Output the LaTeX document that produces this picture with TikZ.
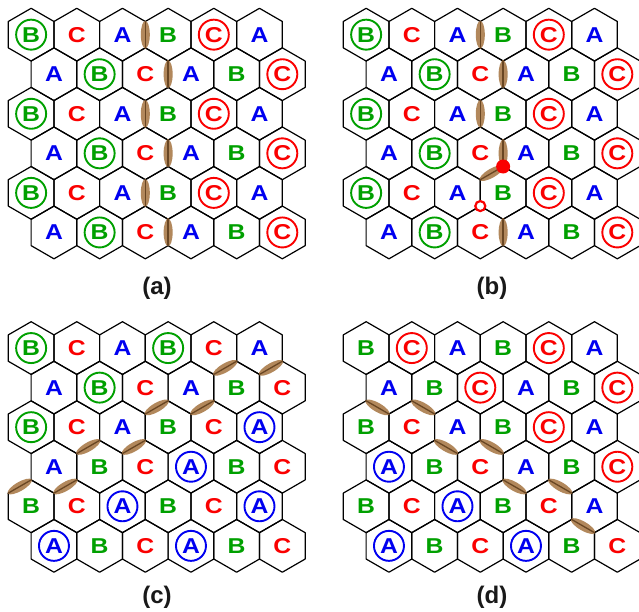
\documentclass[tikz,border=0pt]{standalone}
\usepackage{fontspec}
\usepackage{graphicx}
\setmainfont{Liberation Sans}
\usetikzlibrary{calc,shapes.geometric}
\definecolor{colA}{RGB}{0,0,240}
\definecolor{colB}{RGB}{0,160,0}
\definecolor{colC}{RGB}{250,0,0}
\definecolor{bondfill}{RGB}{178,136,92}
\definecolor{bondline}{RGB}{105,70,35}
\newcommand\hexW{45.67}
\newcommand\hexS{26.37}
\newcommand\hexR{39.555}
\newcommand\wide[1]{\scalebox{1.15}[1]{#1}}
\tikzset{
 cell/.style={circle, inner sep=0pt, minimum size=30pt, font=\bfseries\fontsize{21.5}{21.5}\selectfont},
 ring/.style={draw, line width=1.9pt},
 hexline/.style={draw=black, line width=1.2pt, line join=round},
 bond/.style={ellipse, fill=bondfill, inner sep=0pt, minimum width=9pt, minimum height=27.5pt, sloped},
 bondmid/.style={draw=bondline, line width=1.3pt},
 caption/.style={font=\bfseries\fontsize{24}{24}\selectfont, text=black!90},
 fulldot/.style={circle, fill=colC, inner sep=0pt, minimum size=14pt},
 opendot/.style={circle, draw=colC, fill=white, line width=2.2pt, inner sep=0pt, minimum size=10pt},
}
% #1 panel name, #2 x of first centre, #3 y of first centre, #4 rows
\newcommand\drawpanel[4]{%
  \foreach \rowlist [count=\rr] in {#4} {
    \foreach \Lt/\Rg [count=\kk] in \rowlist {
      \pgfmathsetmacro\xx{#2+(\kk-1)*\hexW+mod(\rr+1,2)*\hexW/2}
      \pgfmathsetmacro\yy{#3+(\rr-1)*\hexR}
      \ifnum\Rg=1
        \node[cell, color=col\Lt, ring] (#1-\rr-\kk) at (\xx,\yy) {\wide{\Lt}};
      \else
        \node[cell, color=col\Lt] (#1-\rr-\kk) at (\xx,\yy) {\wide{\Lt}};
      \fi
      \draw[hexline] (#1-\rr-\kk.center) +(90:\hexS) -- +(30:\hexS) -- +(-30:\hexS)
        -- +(-90:\hexS) -- +(-150:\hexS) -- +(150:\hexS) -- cycle;
    }
  }
}
\newcommand\bondat[3]{%
  \path (#2) -- node[bond] (#1) {} (#3);
  \draw[bondmid] (#1.north) -- (#1.south);
}
\begin{document}
\begin{tikzpicture}[x=1pt,y=-1pt]
\fill[white] (0,0) rectangle (639,612);
\useasboundingbox (0,0) rectangle (639,612);

% panel (a)
\drawpanel{a}{31.13}{34.67}{
 {B/1,C/0,A/0,B/0,C/1,A/0},{A/0,B/1,C/0,A/0,B/0,C/1},
 {B/1,C/0,A/0,B/0,C/1,A/0},{A/0,B/1,C/0,A/0,B/0,C/1},
 {B/1,C/0,A/0,B/0,C/1,A/0},{A/0,B/1,C/0,A/0,B/0,C/1}}
% panel (b)
\drawpanel{b}{366.13}{34.67}{
 {B/1,C/0,A/0,B/0,C/1,A/0},{A/0,B/1,C/0,A/0,B/0,C/1},
 {B/1,C/0,A/0,B/0,C/1,A/0},{A/0,B/1,C/0,A/0,B/0,C/1},
 {B/1,C/0,A/0,B/0,C/1,A/0},{A/0,B/1,C/0,A/0,B/0,C/1}}
% panel (c)
\drawpanel{c}{31.13}{348.07}{
 {B/1,C/0,A/0,B/1,C/0,A/0},{A/0,B/1,C/0,A/0,B/0,C/0},
 {B/1,C/0,A/0,B/0,C/0,A/1},{A/0,B/0,C/0,A/1,B/0,C/0},
 {B/0,C/0,A/1,B/0,C/0,A/1},{A/1,B/0,C/0,A/1,B/0,C/0}}
% panel (d)
\drawpanel{d}{366.13}{348.07}{
 {B/0,C/1,A/0,B/0,C/1,A/0},{A/0,B/0,C/1,A/0,B/0,C/1},
 {B/0,C/0,A/0,B/0,C/1,A/0},{A/1,B/0,C/0,A/0,B/0,C/1},
 {B/0,C/0,A/1,B/0,C/0,A/0},{A/1,B/0,C/0,A/1,B/0,C/0}}

% bonds (a)
\foreach \rr in {1,...,6} { \bondat{ab\rr}{a-\rr-3.center}{a-\rr-4.center} }
% bonds (b)
\foreach \rr in {1,2,3,4,6} { \bondat{bb\rr}{b-\rr-3.center}{b-\rr-4.center} }
\bondat{bb45}{b-4-3.center}{b-5-4.center}
% bonds (c)
\coordinate (c-4-0) at ($(c-4-1.center)+(-\hexW,0)$);
\bondat{cb1}{c-1-5.center}{c-2-5.center}
\bondat{cb2}{c-1-6.center}{c-2-6.center}
\bondat{cb3}{c-2-3.center}{c-3-4.center}
\bondat{cb4}{c-2-4.center}{c-3-5.center}
\bondat{cb5}{c-3-2.center}{c-4-2.center}
\bondat{cb6}{c-3-3.center}{c-4-3.center}
\bondat{cb7}{c-4-0}{c-5-1.center}
\bondat{cb8}{c-4-1.center}{c-5-2.center}
% bonds (d)
\bondat{db1}{d-2-1.center}{d-3-1.center}
\bondat{db2}{d-2-2.center}{d-3-2.center}
\bondat{db3}{d-3-3.center}{d-4-2.center}
\bondat{db4}{d-3-4.center}{d-4-3.center}
\bondat{db5}{d-4-4.center}{d-5-4.center}
\bondat{db6}{d-4-5.center}{d-5-5.center}
\bondat{db7}{d-5-6.center}{d-6-5.center}

% defect markers in (b)
\node[fulldot] (b-full) at (barycentric cs:b-4-3=1,b-4-4=1,b-5-4=1) {};
\node[opendot] (b-open) at (barycentric cs:b-5-3=1,b-5-4=1,b-6-3=1) {};

% captions
\node[caption] (cap-a) at (157,288) {(a)};
\node[caption] (cap-b) at (492,288) {(b)};
\node[caption] (cap-c) at (157,597) {(c)};
\node[caption] (cap-d) at (492,597) {(d)};
\end{tikzpicture}
\end{document}
